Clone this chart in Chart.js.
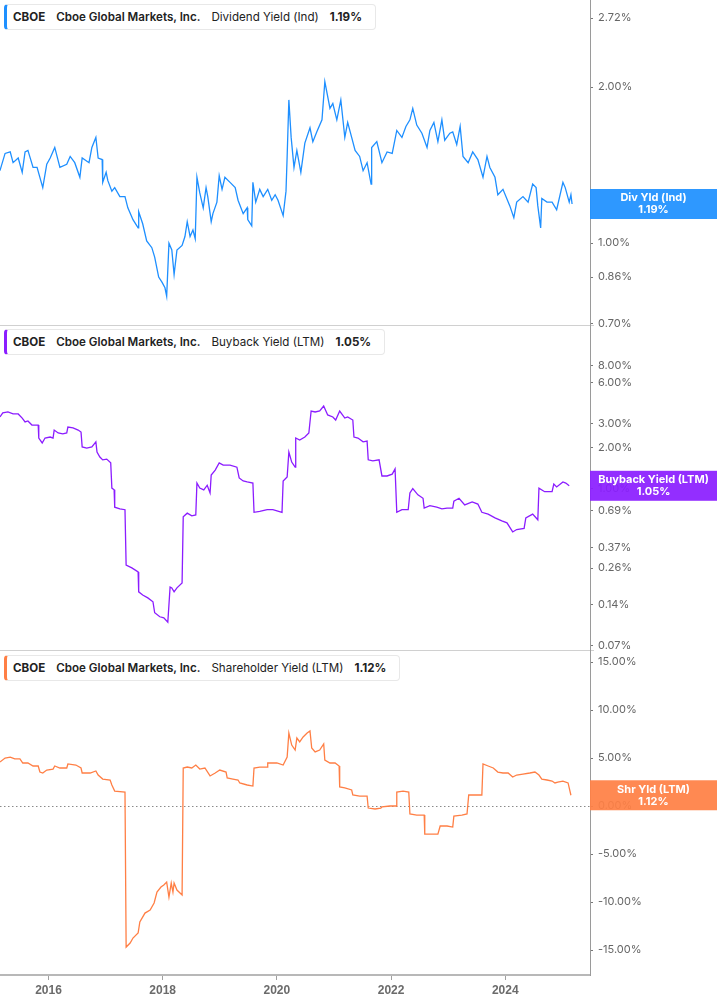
<!DOCTYPE html>
<html lang="en">
<head>
<meta charset="UTF-8">
<title>CBOE Yields</title>
<script src="https://cdn.jsdelivr.net/npm/chart.js"></script>
<style>
    * { margin: 0; padding: 0; box-sizing: border-box; }
    body { width: 717px; height: 1005px; overflow: hidden; background: #fff; position: relative; font-family: Inter, sans-serif; }
    canvas { position: absolute; left: 0; }
    .tag {
        position: absolute; left: 4px; height: 26px; z-index: 5;
        display: flex; align-items: center; white-space: nowrap;
        background: #fff; border: 1px solid #e8e8e8; border-left: 3px solid var(--c);
        border-radius: 4px; padding: 0 13px 0 6px;
        font: 11.6px Inter, sans-serif; color: #222;
    }
    .tag > * { margin-right: 11px; }
    .tag > *:last-child { margin-right: 0; }
    .tag .tk { font-weight: 700; }
    .tag .nm { font-weight: 600; }
    .tag .vl { font-weight: 700; }
</style>
</head>
<body>

<canvas id="c1" width="717" height="357" style="top:-16px"></canvas>
<canvas id="c2" width="717" height="357" style="top:309px"></canvas>
<canvas id="c3" width="717" height="371" style="top:634px"></canvas>

<div class="tag" style="top:4px;--c:#1e90ff"><span class="tk">CBOE</span><span class="nm">Cboe Global Markets, Inc.</span><span>Dividend Yield (Ind)</span><span class="vl">1.19%</span></div>
<div class="tag" style="top:329px;--c:#8b1eff"><span class="tk">CBOE</span><span class="nm">Cboe Global Markets, Inc.</span><span>Buyback Yield (LTM)</span><span class="vl">1.05%</span></div>
<div class="tag" style="top:655px;--c:#ff7f45"><span class="tk">CBOE</span><span class="nm">Cboe Global Markets, Inc.</span><span>Shareholder Yield (LTM)</span><span class="vl">1.12%</span></div>

<script>
// dividend yield (ind), %
const divYears = [2015.15,2015.24,2015.33,2015.38,2015.47,2015.54,2015.59,2015.64,2015.73,2015.80,
    2015.90,2015.97,2016.03,2016.11,2016.20,2016.32,2016.38,2016.46,2016.55,2016.59,
    2016.71,2016.76,2016.83,2016.87,2016.94,2016.95,2017.01,2017.04,2017.11,2017.16,
    2017.25,2017.34,2017.39,2017.48,2017.57,2017.58,2017.65,2017.72,2017.81,2017.86,
    2017.93,2017.99,2018.04,2018.07,2018.11,2018.16,2018.20,2018.25,2018.34,2018.39,
    2018.43,2018.48,2018.53,2018.57,2018.60,2018.65,2018.71,2018.76,2018.79,2018.85,
    2018.88,2018.95,2018.99,2019.04,2019.09,2019.18,2019.27,2019.32,2019.41,2019.48,
    2019.49,2019.56,2019.58,2019.63,2019.70,2019.76,2019.84,2019.91,2019.97,2020.02,
    2020.11,2020.16,2020.18,2020.21,2020.25,2020.30,2020.35,2020.42,2020.49,2020.58,
    2020.63,2020.70,2020.79,2020.84,2020.93,2020.98,2021.05,2021.12,2021.19,2021.24,
    2021.31,2021.37,2021.45,2021.51,2021.58,2021.65,2021.66,2021.75,2021.84,2021.93,
    2022.02,2022.10,2022.19,2022.26,2022.33,2022.38,2022.45,2022.54,2022.63,2022.68,
    2022.75,2022.82,2022.89,2022.94,2023.03,2023.08,2023.15,2023.21,2023.26,2023.35,
    2023.43,2023.52,2023.61,2023.68,2023.73,2023.82,2023.87,2023.96,2024.08,2024.15,
    2024.20,2024.31,2024.40,2024.48,2024.54,2024.57,2024.62,2024.64,2024.73,2024.82,
    2024.90,2025.01,2025.05,2025.12,2025.15,2025.17];
const divValues = [1.38,1.49,1.50,1.43,1.46,1.37,1.50,1.51,1.40,1.40,
    1.28,1.42,1.46,1.53,1.40,1.42,1.47,1.43,1.34,1.46,
    1.43,1.53,1.60,1.46,1.45,1.31,1.37,1.32,1.26,1.28,
    1.23,1.23,1.17,1.11,1.07,1.15,1.09,1.01,0.98,0.94,
    0.86,0.84,0.82,0.79,1.00,0.97,0.87,0.97,0.99,1.03,
    1.10,1.03,1.06,1.02,1.34,1.25,1.17,1.28,1.23,1.10,
    1.14,1.20,1.35,1.27,1.34,1.31,1.28,1.21,1.14,1.17,
    1.11,1.08,1.31,1.20,1.27,1.23,1.27,1.21,1.24,1.21,
    1.13,1.26,1.47,1.89,1.60,1.40,1.51,1.37,1.56,1.67,
    1.57,1.64,1.73,2.05,1.82,1.86,1.73,1.89,1.60,1.71,
    1.60,1.51,1.47,1.38,1.43,1.30,1.53,1.57,1.43,1.50,
    1.49,1.65,1.60,1.68,1.73,1.82,1.69,1.63,1.53,1.65,
    1.71,1.57,1.73,1.58,1.63,1.64,1.55,1.68,1.47,1.43,
    1.50,1.45,1.34,1.47,1.40,1.34,1.24,1.27,1.18,1.12,
    1.20,1.23,1.20,1.30,1.28,1.18,1.07,1.22,1.20,1.20,
    1.16,1.31,1.28,1.20,1.24,1.19];

// buyback yield (LTM), %
const bbYears = [2015.15,2015.20,2015.29,2015.38,2015.47,2015.54,2015.59,2015.64,2015.71,2015.82,
    2015.83,2015.89,2015.94,2016.03,2016.08,2016.10,2016.17,2016.25,2016.32,2016.34,
    2016.43,2016.52,2016.57,2016.59,2016.67,2016.76,2016.83,2016.85,2016.90,2016.95,
    2017.02,2017.09,2017.11,2017.15,2017.16,2017.25,2017.34,2017.36,2017.46,2017.57,
    2017.58,2017.65,2017.74,2017.83,2017.86,2017.95,2018.02,2018.09,2018.13,2018.16,
    2018.20,2018.25,2018.34,2018.36,2018.43,2018.51,2018.58,2018.60,2018.65,2018.72,
    2018.78,2018.83,2018.85,2018.92,2018.99,2019.06,2019.18,2019.30,2019.34,2019.41,
    2019.48,2019.58,2019.60,2019.70,2019.83,2019.93,2020.09,2020.11,2020.18,2020.21,
    2020.26,2020.32,2020.33,2020.40,2020.49,2020.56,2020.60,2020.67,2020.75,2020.82,
    2020.89,2020.98,2021.03,2021.10,2021.19,2021.24,2021.33,2021.35,2021.42,2021.51,
    2021.58,2021.60,2021.68,2021.79,2021.84,2021.93,2022.02,2022.07,2022.10,2022.19,
    2022.30,2022.33,2022.38,2022.47,2022.56,2022.58,2022.68,2022.80,2022.89,2022.98,
    2023.08,2023.10,2023.19,2023.29,2023.42,2023.52,2023.59,2023.70,2023.82,2023.94,
    2024.03,2024.13,2024.20,2024.33,2024.36,2024.48,2024.57,2024.59,2024.69,2024.82,
    2024.85,2024.90,2025.01,2025.06,2025.12];
const bbValues = [3.37,3.61,3.67,3.55,3.55,3.31,3.10,3.15,2.94,2.94,
    2.36,2.17,2.36,2.40,2.36,2.70,2.57,2.53,2.57,2.84,
    2.80,2.70,2.61,2.03,1.99,2.03,2.21,1.86,1.71,1.63,
    1.65,1.55,1.01,0.98,0.73,0.71,0.70,0.274,0.261,0.244,
    0.174,0.165,0.157,0.147,0.122,0.114,0.112,0.104,0.189,0.186,
    0.174,0.186,0.202,0.62,0.66,0.63,0.64,1.10,1.01,0.98,
    1.06,0.93,1.26,1.37,1.55,1.49,1.49,1.44,1.20,1.14,
    1.12,1.10,0.67,0.68,0.70,0.70,0.67,1.14,1.22,1.86,
    1.57,1.44,2.36,2.28,2.40,2.57,3.73,3.67,3.73,4.06,
    3.49,3.37,3.20,3.73,3.31,3.37,3.20,2.40,2.36,2.21,
    2.24,1.63,1.60,1.63,1.24,1.24,1.28,1.40,0.67,0.70,
    0.70,0.93,1.00,0.90,0.85,0.72,0.75,0.73,0.71,0.72,
    0.72,0.81,0.85,0.76,0.80,0.77,0.67,0.65,0.61,0.58,
    0.56,0.48,0.50,0.51,0.61,0.65,0.59,1.01,0.95,0.95,
    1.08,1.03,1.12,1.10,1.05];

// shareholder yield (LTM), %
const shYears = [2015.15,2015.24,2015.33,2015.41,2015.50,2015.55,2015.64,2015.73,2015.82,2015.85,
    2015.90,2015.97,2016.08,2016.11,2016.20,2016.32,2016.34,2016.48,2016.57,2016.59,
    2016.73,2016.83,2016.87,2016.95,2017.08,2017.11,2017.16,2017.34,2017.36,2017.43,
    2017.48,2017.57,2017.60,2017.69,2017.78,2017.85,2017.90,2017.97,2018.02,2018.07,
    2018.11,2018.15,2018.18,2018.20,2018.25,2018.34,2018.36,2018.43,2018.51,2018.58,
    2018.65,2018.74,2018.83,2018.92,2019.00,2019.11,2019.13,2019.23,2019.32,2019.35,
    2019.48,2019.58,2019.60,2019.70,2019.83,2019.84,2020.00,2020.11,2020.18,2020.21,
    2020.26,2020.32,2020.35,2020.40,2020.46,2020.53,2020.58,2020.61,2020.67,2020.75,
    2020.82,2020.84,2020.93,2021.02,2021.09,2021.10,2021.19,2021.31,2021.33,2021.45,
    2021.58,2021.60,2021.72,2021.82,2021.84,2021.98,2022.09,2022.10,2022.21,2022.31,
    2022.33,2022.45,2022.58,2022.59,2022.72,2022.82,2022.86,2022.98,2023.08,2023.10,
    2023.24,2023.33,2023.36,2023.47,2023.59,2023.61,2023.70,2023.79,2023.87,2023.96,
    2024.05,2024.13,2024.20,2024.31,2024.43,2024.52,2024.59,2024.64,2024.73,2024.82,
    2024.87,2024.92,2025.01,2025.10,2025.15];
const shValues = [4.58,5.00,5.10,4.90,4.90,4.48,4.48,4.17,4.17,3.54,
    3.44,3.75,3.85,4.17,3.96,3.96,4.38,4.27,3.96,3.44,
    3.44,3.65,3.23,2.81,2.71,2.19,1.56,1.46,-14.69,-14.27,
    -13.75,-13.23,-12.08,-11.15,-10.83,-10.10,-8.96,-8.44,-8.23,-7.92,
    -9.48,-8.02,-8.96,-8.02,-8.75,-9.27,3.96,4.06,3.96,4.27,
    3.85,3.96,3.13,3.44,3.75,3.54,2.92,2.81,2.71,2.40,
    2.19,2.08,3.96,4.06,4.06,4.48,4.48,4.27,5.10,7.60,
    6.35,5.83,7.08,6.67,7.19,7.60,7.81,6.04,5.63,5.83,
    6.46,4.79,4.48,4.48,4.17,1.98,1.88,1.67,1.15,1.04,
    1.04,-0.21,-0.31,-0.21,-0.10,0.00,0.00,1.46,1.56,1.46,
    -0.83,-0.94,-0.94,-2.92,-2.92,-2.92,-2.08,-2.08,-2.19,-1.04,
    -0.94,-0.83,1.15,1.15,1.15,4.38,4.17,3.96,3.54,3.44,
    3.44,3.02,3.23,3.33,3.44,3.54,3.23,2.81,2.71,2.60,
    2.40,2.50,2.60,2.40,1.12];

// tick labels
const xTickYears = [2016, 2018, 2020, 2022, 2024];
const divTicks = [2.72, 2.00, 1.00, 0.86, 0.70];
const bbTicks = [8.00, 6.00, 3.00, 2.00, 1.00, 0.69, 0.37, 0.26, 0.14, 0.07];
const shTicks = [15, 10, 5, 0, -5, -10, -15];

Chart.defaults.font.family = 'Inter, sans-serif';

// callout box on the axis, separator under a panel, dotted zero line
const decor = {
    id: 'decor',
    beforeDatasetsDraw(chart, args, opts) {
        if (!opts.zero) return;
        const { ctx, chartArea } = chart;
        const y = Math.round(chart.scales.y.getPixelForValue(0)) + 0.5;
        ctx.save();
        ctx.strokeStyle = '#8a8a8a';
        ctx.lineWidth = 1;
        ctx.setLineDash([1.5, 2.5]);
        ctx.beginPath();
        ctx.moveTo(chartArea.left, y);
        ctx.lineTo(chartArea.right, y);
        ctx.stroke();
        ctx.restore();
    },
    afterDraw(chart, args, opts) {
        const { ctx, chartArea } = chart;
        ctx.save();
        if (opts.separator) {
            ctx.strokeStyle = '#d0d0d0';
            ctx.lineWidth = 1;
            ctx.beginPath();
            ctx.moveTo(0, chartArea.bottom + 0.5);
            ctx.lineTo(chartArea.right + 4, chartArea.bottom + 0.5);
            ctx.stroke();
        }
        const pts = chart.data.datasets[0].data;
        const last = pts[pts.length - 1].y;
        const y = chart.scales.y.getPixelForValue(last);
        ctx.globalAlpha = 0.93;
        ctx.fillStyle = opts.color;
        ctx.fillRect(chartArea.right, y - 15, chart.width - chartArea.right, 30);
        ctx.globalAlpha = 1;
        ctx.fillStyle = '#fff';
        ctx.font = 'bold 11px Inter, sans-serif';
        ctx.textAlign = 'center';
        ctx.textBaseline = 'middle';
        const cx = (chartArea.right + chart.width) / 2;
        ctx.fillText(opts.title, cx, y - 6);
        ctx.fillText(last.toFixed(2) + '%', cx, y + 6);
        ctx.restore();
    }
};

function makeChart(id, years, values, color, yScale, deco, showX) {
    const ctx = document.getElementById(id).getContext('2d');
    return new Chart(ctx, {
        type: 'line',
        data: {
            datasets: [{
                data: years.map((x, i) => ({ x: x, y: values[i] })),
                borderColor: color,
                borderWidth: 1.3,
                pointRadius: 0,
                tension: 0
            }]
        },
        plugins: [decor],
        options: {
            responsive: false,
            animation: false,
            events: [],
            layout: { padding: { top: 16, bottom: showX ? 0 : 16, left: 0, right: 0 } },
            plugins: {
                legend: { display: false },
                tooltip: { enabled: false },
                decor: deco
            },
            scales: {
                x: {
                    type: 'linear',
                    min: 2015.151,
                    max: 2025.484,
                    display: showX,
                    afterBuildTicks: s => { s.ticks = xTickYears.map(v => ({ value: v })); },
                    afterFit: s => { s.height = showX ? 30 : 0; },
                    ticks: {
                        callback: v => String(v),
                        color: '#6b6b6b',
                        font: { family: 'Liberation Sans, Arial, sans-serif', size: 12, weight: 'bold' },
                        padding: 3,
                        maxRotation: 0,
                        autoSkip: false
                    },
                    grid: { drawOnChartArea: false, tickLength: 5, tickColor: '#a0a0a0' },
                    border: { color: '#b8b8b8', width: 2 }
                },
                y: Object.assign({
                    position: 'right',
                    afterFit: s => { s.width = 127; },
                    grid: { drawOnChartArea: false, tickLength: 3, tickColor: '#777' },
                    border: { color: '#9a9a9a', width: 1 }
                }, yScale)
            }
        }
    });
}

function yTicks(list) {
    return {
        afterBuildTicks: s => { s.ticks = list.map(v => ({ value: v })); },
        ticks: {
            callback: v => v.toFixed(2) + '%',
            color: '#666',
            font: { size: 11 },
            padding: 5,
            autoSkip: false
        }
    };
}

makeChart('c1', divYears, divValues, '#1e8fff',
    Object.assign({ type: 'logarithmic', min: 0.695, max: 2.9466 }, yTicks(divTicks)),
    { color: '#1e90ff', title: 'Div Yld (Ind)', separator: true }, false);

makeChart('c2', bbYears, bbValues, '#8b1cff',
    Object.assign({ type: 'logarithmic', min: 0.0649, max: 16.03 }, yTicks(bbTicks)),
    { color: '#8b1eff', title: 'Buyback Yield (LTM)', separator: true }, false);

makeChart('c3', shYears, shValues, '#ff7f45',
    Object.assign({ type: 'linear', min: -17.6, max: 16.25 }, yTicks(shTicks)),
    { color: '#ff8045', title: 'Shr Yld (LTM)', zero: true }, true);
</script>
</body>
</html>
